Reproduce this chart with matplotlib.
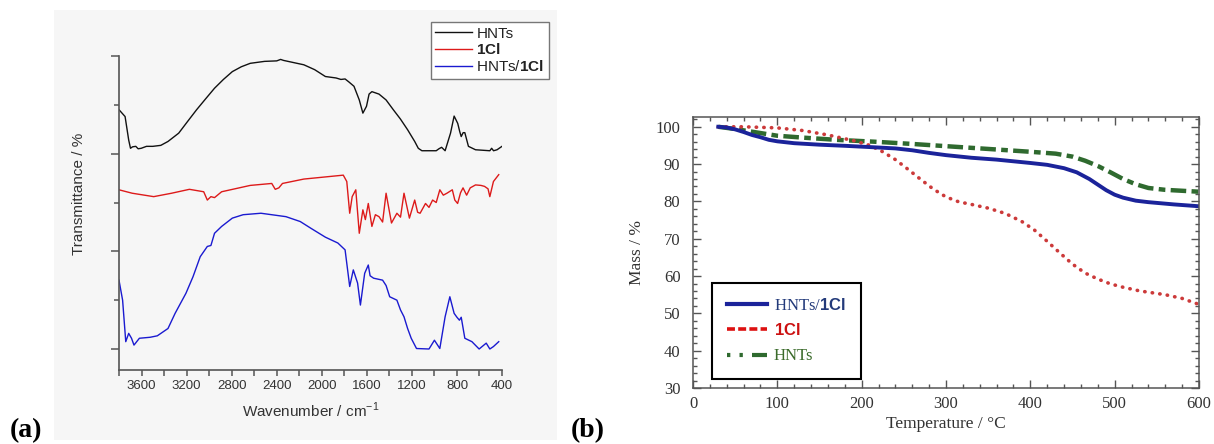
import numpy as np
import matplotlib
matplotlib.use("Agg")
from matplotlib import pyplot as plt
from matplotlib.lines import Line2D
from matplotlib.patches import Rectangle
from matplotlib.ticker import MultipleLocator

plt.rcParams['mathtext.fontset'] = 'custom'
plt.rcParams['mathtext.rm'] = 'Liberation Sans'
plt.rcParams['mathtext.bf'] = 'Liberation Sans:bold'

# (a) FTIR, wavenumber in cm-1, transmittance in offset units
wn_hnt = [3800, 3746, 3714, 3698, 3680, 3651, 3630, 3603, 3556, 3500, 3429, 3365, 3270,
          3191, 3111, 3032, 2952, 2873, 2794, 2714, 2635, 2508, 2400, 2365, 2340, 2159,
          2063, 1968, 1873, 1830, 1793, 1760, 1714, 1667, 1635, 1603, 1580, 1555, 1492,
          1429, 1365, 1302, 1238, 1175, 1143, 1111, 984, 960, 936, 905, 857, 825, 810,
          793, 775, 762, 745, 730, 698, 635, 508, 492, 475, 444, 400]
t_hnt = [4.90, 4.76, 4.28, 4.11, 4.14, 4.15, 4.10, 4.11, 4.15, 4.15, 4.17, 4.25, 4.42,
         4.66, 4.90, 5.12, 5.34, 5.52, 5.68, 5.78, 5.85, 5.89, 5.90, 5.93, 5.91, 5.82,
         5.72, 5.58, 5.55, 5.52, 5.53, 5.47, 5.38, 5.10, 4.83, 4.97, 5.22, 5.27, 5.22,
         5.10, 4.90, 4.71, 4.49, 4.25, 4.11, 4.06, 4.06, 4.10, 4.13, 4.06, 4.42, 4.77,
         4.70, 4.62, 4.45, 4.35, 4.43, 4.43, 4.15, 4.08, 4.06, 4.11, 4.06, 4.08, 4.15]

wn_cl = [3800, 3683, 3492, 3333, 3175, 3048, 3016, 2984, 2952, 2889, 2635, 2444, 2413,
         2381, 2349, 2159, 1809, 1778, 1752, 1730, 1698, 1667, 1635, 1613, 1587, 1555,
         1524, 1492, 1460, 1429, 1381, 1333, 1301, 1270, 1222, 1175, 1149, 1127, 1079,
         1048, 1016, 984, 952, 921, 889, 841, 819, 794, 768, 746, 714, 682, 635, 587,
         555, 524, 508, 476, 429]
t_cl = [3.26, 3.19, 3.12, 3.19, 3.27, 3.22, 3.05, 3.12, 3.10, 3.22, 3.35, 3.39, 3.27,
        3.30, 3.39, 3.48, 3.56, 3.43, 2.78, 3.12, 3.26, 2.37, 2.85, 2.65, 2.98, 2.51,
        2.75, 2.71, 2.60, 3.19, 2.58, 2.78, 2.70, 3.19, 2.68, 3.05, 2.80, 2.78, 2.98,
        2.90, 3.05, 3.00, 3.26, 3.15, 3.19, 3.26, 3.05, 2.98, 3.20, 3.30, 3.15, 3.30,
        3.36, 3.35, 3.33, 3.28, 3.12, 3.43, 3.57]

wn_mix = [3800, 3768, 3740, 3714, 3689, 3667, 3619, 3524, 3460, 3365, 3302, 3206, 3143,
          3079, 3016, 2984, 2952, 2889, 2794, 2698, 2540, 2318, 2191, 2095, 1968, 1857,
          1793, 1752, 1720, 1682, 1657, 1619, 1587, 1571, 1540, 1460, 1429, 1397, 1333,
          1301, 1270, 1238, 1206, 1159, 1048, 1000, 952, 905, 863, 825, 800, 778, 762,
          730, 667, 603, 540, 508, 476, 429]
t_mix = [1.41, 1.00, 0.15, 0.32, 0.22, 0.08, 0.22, 0.24, 0.27, 0.42, 0.73, 1.14, 1.48,
         1.89, 2.10, 2.12, 2.37, 2.51, 2.68, 2.75, 2.78, 2.71, 2.61, 2.47, 2.29, 2.17,
         2.03, 1.28, 1.62, 1.35, 0.90, 1.55, 1.72, 1.50, 1.45, 1.41, 1.30, 1.07, 1.00,
         0.80, 0.66, 0.42, 0.22, 0.01, 0.00, 0.18, 0.01, 0.66, 1.07, 0.73, 0.65, 0.59,
         0.65, 0.22, 0.15, 0.00, 0.12, 0.00, 0.05, 0.15]

# (b) TGA, temperature in C, mass in %
T_mix = [30, 40, 50, 60, 70, 80, 90, 100, 120, 150, 180, 215, 240, 260, 280, 300, 330,
         360, 400, 420, 440, 455, 470, 480, 490, 500, 510, 525, 540, 570, 600]
m_mix = [100, 99.8, 99.3, 98.6, 97.8, 97.2, 96.5, 96.1, 95.6, 95.2, 94.9, 94.5, 94.2,
         93.7, 93.0, 92.4, 91.7, 91.2, 90.3, 89.8, 88.9, 87.8, 86.0, 84.5, 83.0, 81.8,
         81.0, 80.2, 79.8, 79.2, 78.7]
T_cl = [30, 60, 100, 130, 160, 190, 210, 225, 240, 255, 270, 285, 300, 315, 330, 350,
        370, 390, 405, 420, 435, 450, 465, 480, 495, 510, 530, 560, 580, 600]
m_cl = [100, 100, 99.7, 99.0, 97.8, 96.3, 95.0, 93.3, 91.2, 88.6, 85.9, 83.3, 81.2,
        79.9, 79.2, 78.2, 76.8, 74.6, 72.3, 69.3, 66.2, 63.2, 60.8, 59.2, 57.9, 57.0,
        56.0, 55.0, 54.0, 52.4]
T_hnt = [30, 50, 75, 100, 130, 170, 215, 260, 307, 354, 400, 430, 450, 465, 480, 495,
         510, 525, 540, 560, 600]
m_hnt = [100, 99.4, 98.5, 97.6, 97.1, 96.5, 96.0, 95.4, 94.7, 94.0, 93.3, 92.8, 92.0,
         90.9, 89.5, 87.8, 86.0, 84.6, 83.6, 83.1, 82.6]

W, H = 1214, 444
fig = plt.figure(figsize=(W / 100, H / 100), dpi=100)
fig.patches.append(Rectangle((54 / W, 4 / H), 503 / W, 430 / H, transform=fig.transFigure,
                             facecolor='#f6f6f6', edgecolor='none', zorder=-10))

# ---- panel (a)
ax1 = fig.add_axes([119 / W, 1 - 370 / H, (502 - 119) / W, (370 - 56) / H])
ax1.patch.set_alpha(0)
ax1.plot(wn_hnt, t_hnt, color='#111111', lw=1.0, label='HNTs')
ax1.plot(wn_cl, t_cl, color='#dd1a1a', lw=1.0, label=r'$\mathbf{1Cl}$')
ax1.plot(wn_mix, t_mix, color='#1a1ad0', lw=1.0, label=r'HNTs/$\mathbf{1Cl}$')
ax1.set_xlim(3800, 400)
ax1.set_ylim(-0.43, 6)
ax1.set_xticks([3600, 3200, 2800, 2400, 2000, 1600, 1200, 800, 400])
ax1.xaxis.set_minor_locator(MultipleLocator(200))
ax1.set_yticks([0, 2, 4, 6])
ax1.set_yticklabels([])
ax1.yaxis.set_minor_locator(MultipleLocator(1))
for s in ['top', 'right']:
    ax1.spines[s].set_visible(False)
for s in ['left', 'bottom']:
    ax1.spines[s].set_color('#555555')
    ax1.spines[s].set_linewidth(1.2)
ax1.tick_params(which='both', direction='out', colors='#555555', labelcolor='#333333',
                labelsize=9.5, width=1.1)
ax1.tick_params(axis='y', which='major', length=6)
ax1.tick_params(axis='y', which='minor', length=3.5)
ax1.tick_params(axis='x', which='both', length=4)
for lab in ax1.get_xticklabels():
    lab.set_family('Liberation Sans')
ax1.set_xlabel(r'Wavenumber / cm$^{-1}$', family='Liberation Sans', fontsize=11,
               color='#333333', labelpad=6)
ax1.set_ylabel('Transmittance / %', family='Liberation Sans', fontsize=11,
               color='#333333')
ax1.yaxis.set_label_coords(-0.085, 0.56)
leg1 = ax1.legend(loc='upper right', bbox_to_anchor=(549 / W, 1 - 22 / H),
                  bbox_transform=fig.transFigure, borderaxespad=0, fancybox=False,
                  framealpha=1, edgecolor='#777777', handlelength=2.4, handletextpad=0.3,
                  labelspacing=0.12, borderpad=0.3,
                  prop={'family': 'Liberation Sans', 'size': 11})
leg1.get_frame().set_linewidth(1.0)
for t in leg1.get_texts():
    t.set_color('#222222')

# ---- panel (b)
ax2 = fig.add_axes([693 / W, 1 - 388 / H, (1199 - 693) / W, (388 - 116.7) / H])
c_mix, c_cl, c_hnt = '#1b239a', '#cc3a3a', '#2f6a2f'
ax2.plot(T_hnt, m_hnt, color=c_hnt, lw=3.2, linestyle=(0, (3.5, 1.2, 1.5, 1.2)))
ax2.plot(T_cl, m_cl, color=c_cl, lw=2.6, linestyle=(0, (0.1, 2.0)),
         dash_capstyle='round')
ax2.plot(T_mix, m_mix, color=c_mix, lw=2.8)
ax2.set_xlim(0, 600)
ax2.set_ylim(30, 102.7)
ax2.xaxis.set_major_locator(MultipleLocator(100))
ax2.xaxis.set_minor_locator(MultipleLocator(20))
ax2.yaxis.set_major_locator(MultipleLocator(10))
ax2.yaxis.set_minor_locator(MultipleLocator(2))
for s in ax2.spines.values():
    s.set_color('#555555')
    s.set_linewidth(1.1)
ax2.tick_params(which='both', direction='in', top=True, right=True, colors='#555555',
                labelcolor='#333333', labelsize=12, width=1.0)
ax2.tick_params(which='major', length=6)
ax2.tick_params(which='minor', length=3)
ax2.tick_params(axis='y', which='both', pad=9)
ax2.tick_params(axis='x', which='both', pad=6)
for lab in ax2.get_xticklabels() + ax2.get_yticklabels():
    lab.set_family('Liberation Serif')
ax2.set_xlabel('Temperature / °C', family='Liberation Serif', fontsize=12.5,
               color='#333333', labelpad=3)
ax2.set_ylabel('Mass / %', family='Liberation Serif', fontsize=12.5, color='#333333',
               labelpad=8)

handles = [Line2D([], [], color=c_mix, lw=3),
           Line2D([], [], color='#dd1111', lw=2.6, linestyle=(0, (2.2, 0.9))),
           Line2D([], [], color=c_hnt, lw=3, linestyle=(0, (0.8, 2.2, 0.8, 2.2, 3.5, 0)))]
labels = [r'HNTs/$\mathbf{1Cl}$', r'$\mathbf{1Cl}$', 'HNTs']
leg2 = ax2.legend(handles, labels, loc='upper left', bbox_to_anchor=(712 / W, 1 - 283 / H),
                  bbox_transform=fig.transFigure, borderaxespad=0, fancybox=False,
                  framealpha=1, edgecolor='black', handlelength=2.4, handletextpad=0.4,
                  labelspacing=0.55, borderpad=0.9,
                  prop={'family': 'Liberation Serif', 'size': 12})
leg2.get_frame().set_linewidth(1.5)
for t, c in zip(leg2.get_texts(), ['#233a7a', '#cc1111', '#3b6b2b']):
    t.set_color(c)

fig.text(10 / W, 1 / H, '(a)', family='Liberation Serif', fontweight='bold', fontsize=20,
         va='bottom')
fig.text(571 / W, 1 / H, '(b)', family='Liberation Serif', fontweight='bold', fontsize=20,
         va='bottom')

fig.savefig('out.png', dpi=100)
